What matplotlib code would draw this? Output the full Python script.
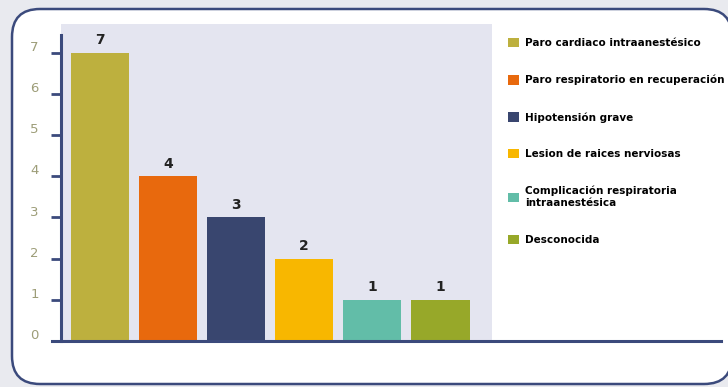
import matplotlib.pyplot as plt
import matplotlib.transforms as mtrans
from matplotlib.patches import FancyBboxPatch
from matplotlib.lines import Line2D

causas = ['Paro cardiaco intraanestésico',
          'Paro respiratorio en recuperación',
          'Hipotensión grave',
          'Lesion de raices nerviosas',
          'Complicación respiratoria\nintraanestésica',
          'Desconocida']
casos = [7, 4, 3, 2, 1, 1]
colores = ['#bdb03e', '#e8690d', '#39466f', '#f8b700', '#62bda8', '#97a829']
yticks = [0, 1, 2, 3, 4, 5, 6, 7]

navy = '#3b4a7c'
plt.rcParams['font.family'] = ['Liberation Sans Narrow', 'DejaVu Sans']

fig = plt.figure(figsize=(7.28, 3.87), dpi=100, facecolor='#e9eaef')
px = mtrans.IdentityTransform()

# caja blanca redondeada
caja = FancyBboxPatch((12, 3), 720, 375, boxstyle='round,pad=0,rounding_size=28',
                      transform=px, facecolor='white', edgecolor=navy, linewidth=1.8,
                      zorder=-10)
fig.add_artist(caja)

ax = fig.add_axes([61/728, 46/387, 431/728, 317/387])
ax.set_facecolor('#e4e5f0')
x = range(len(casos))
bars = ax.bar(x, casos, width=0.86, color=colores)
ax.bar_label(bars, padding=4, fontsize=10, fontweight='bold', color='#222222',
             family='DejaVu Sans')

ax.set_xlim(-0.57, 5.76)
ax.set_ylim(0, 7.7)
ax.set_xticks([])
ax.set_yticks(yticks)
ax.set_yticklabels([str(t) for t in yticks], family='DejaVu Sans')
ax.tick_params(axis='y', direction='out', length=7, width=2, color=navy,
               labelcolor='#9d9d78', labelsize=9.5, pad=9)
for lbl in ax.get_yticklabels():
    lbl.set_transform(lbl.get_transform() +
                      mtrans.ScaledTranslation(0, 5/72, fig.dpi_scale_trans))
for s in ['top', 'right', 'bottom']:
    ax.spines[s].set_visible(False)
ax.spines['left'].set_color(navy)
ax.spines['left'].set_linewidth(2.2)
ax.spines['left'].set_bounds(0, 7.44)

# eje x prolongado hasta el borde derecho
fig.add_artist(Line2D([52, 721], [46, 46], transform=px, color=navy, linewidth=2.2))

ax.legend(list(bars.patches), causas, loc='upper left',
          bbox_to_anchor=(504/728, 1 - 34/387), bbox_transform=fig.transFigure,
          frameon=False, handlelength=1.0, handleheight=1.0, handletextpad=0.6,
          labelspacing=2.55, borderaxespad=0,
          prop={'family': ['Liberation Sans Narrow', 'DejaVu Sans'],
                'weight': 'bold', 'size': 7.5})

fig.savefig('out.png', dpi=100, facecolor=fig.get_facecolor())
